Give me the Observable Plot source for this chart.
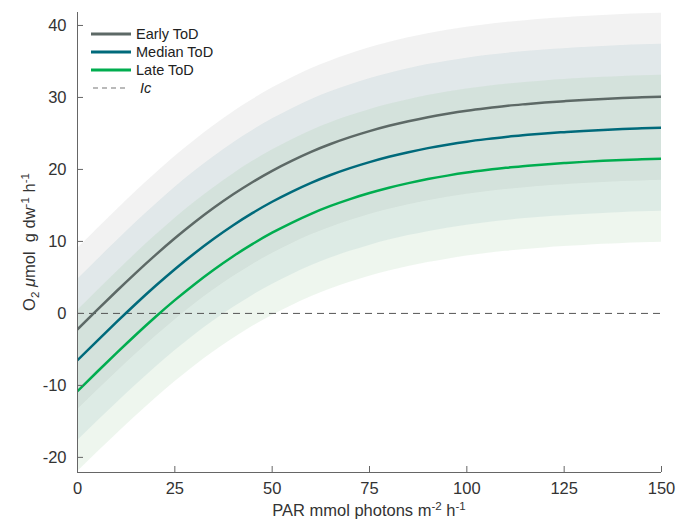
<!DOCTYPE html>
<html>
<head>
<meta charset="utf-8">
<script src="https://cdn.jsdelivr.net/npm/d3@7"></script>
<script src="https://cdn.jsdelivr.net/npm/@observablehq/plot@0.6"></script>
<style>
  html, body { margin: 0; padding: 0; background: #fff; }
  #wrap { position: relative; width: 688px; height: 522px; font-family: "Liberation Sans", Arial, Helvetica, sans-serif; color: #333; }
  #legend { position: absolute; left: 90px; top: 25px; font-size: 14.5px; color: #222; }
  .lrow { display: flex; align-items: center; height: 18px; }
  .lrow svg { margin-right: 4px; }
  #xlabel { position: absolute; left: 77px; width: 584px; top: 500px; text-align: center; font-size: 16.5px; color: #333; white-space: nowrap; }
  #ylabel { position: absolute; left: 30px; top: 242px; transform: translate(-50%, -50%) rotate(-90deg); font-size: 16.5px; color: #333; white-space: nowrap; }
  sup, sub { font-size: 0.7em; }
  sup { vertical-align: 0.55em; }
  sub { vertical-align: -0.3em; }
</style>
</head>
<body>
<div id="wrap">
  <div id="chart"></div>
  <div id="legend"></div>
  <div id="xlabel">PAR mmol photons m<sup>-2</sup> h<sup>-1</sup></div>
  <div id="ylabel">O<sub>2</sub> <i>μ</i>mol&nbsp; g dw<sup>-1</sup> h<sup>-1</sup></div>
</div>
<script>
// PAR values (mmol photons m^-2 h^-1)
const par = [0,5,10,15,20,25,30,35,40,45,50,55,60,65,70,75,80,85,90,95,100,105,110,115,120,125,130,135,140,145,150];
// Fitted curves
const earlyToD  = [-2.2,0.46,3.08,5.64,8.1,10.44,12.63,14.67,16.55,18.26,19.81,21.19,22.44,23.53,24.48,25.32,26.06,26.7,27.26,27.74,28.16,28.51,28.82,29.07,29.3,29.48,29.65,29.79,29.91,30.01,30.1];
const medianToD = [-6.5,-3.84,-1.22,1.34,3.8,6.14,8.33,10.37,12.25,13.96,15.51,16.89,18.14,19.23,20.18,21.02,21.76,22.4,22.96,23.44,23.86,24.21,24.52,24.77,25.0,25.18,25.35,25.49,25.61,25.71,25.8];
const lateToD   = [-10.8,-8.14,-5.52,-2.96,-0.5,1.84,4.03,6.07,7.95,9.66,11.21,12.59,13.84,14.93,15.88,16.72,17.46,18.1,18.66,19.14,19.56,19.91,20.22,20.47,20.7,20.88,21.05,21.19,21.31,21.41,21.5];
// Half-width of the shaded interval around each curve
const bandHalf  = [11.2,11.22,11.25,11.28,11.31,11.34,11.37,11.4,11.43,11.46,11.49,11.51,11.53,11.55,11.56,11.57,11.58,11.59,11.6,11.6,11.6,11.6,11.6,11.6,11.6,11.6,11.6,11.6,11.6,11.6,11.6];
// Axis ticks
const xTicks = [0,25,50,75,100,125,150];
const yTicks = [-20,-10,0,10,20,30,40];
const seriesNames = ["Early ToD","Median ToD","Late ToD"];
const lineColors = ["#5d6966","#006a7b","#00ad4f"];
const bandColors = ["#a8a8a8","#81afbd","#8ec38e"];
const seriesValues = [earlyToD, medianToD, lateToD];

const W = 688, H = 522;
const M = {top: 12, right: 27, bottom: 50, left: 77};
const plotW = W - M.left - M.right, plotH = H - M.top - M.bottom;
const yDomain = [-22.1, 41.8];

const rows = [];
seriesNames.forEach((name, s) => {
  par.forEach((p, i) => rows.push({series: name, s, par: p, y: seriesValues[s][i], lo: seriesValues[s][i] - bandHalf[i], hi: seriesValues[s][i] + bandHalf[i]}));
});

const marks = [];
seriesNames.forEach((name, s) => {
  marks.push(Plot.areaY(rows.filter(d => d.s === s), {x: "par", y1: "lo", y2: "hi", fill: bandColors[s], fillOpacity: 0.15, curve: "natural", clip: true}));
});
marks.push(Plot.ruleY([0], {stroke: "#555", strokeWidth: 1, strokeDasharray: "7,5"}));
seriesNames.forEach((name, s) => {
  marks.push(Plot.line(rows.filter(d => d.s === s), {x: "par", y: "y", stroke: lineColors[s], strokeWidth: 2.5, curve: "natural", clip: true}));
});
marks.push(Plot.ruleX([0], {stroke: "#666", strokeWidth: 1}));
marks.push(Plot.ruleY([yDomain[0]], {stroke: "#666", strokeWidth: 1}));
marks.push(Plot.tickX(xTicks, {x: d => d, insetTop: plotH - 6, stroke: "#666"}));
marks.push(Plot.tickY(yTicks, {y: d => d, insetRight: plotW - 6, stroke: "#666"}));
marks.push(Plot.axisX(xTicks, {tickSize: 0, tickPadding: 10, label: null, tickFormat: d => String(d)}));
marks.push(Plot.axisY(yTicks, {tickSize: 0, tickPadding: 11, label: null, tickFormat: d => String(d)}));

const chart = Plot.plot({
  width: W, height: H,
  marginTop: M.top, marginRight: M.right, marginBottom: M.bottom, marginLeft: M.left,
  style: {fontFamily: '"Liberation Sans", Arial, Helvetica, sans-serif', fontSize: "16.5px", color: "#333", background: "transparent"},
  x: {domain: [0, 150]},
  y: {domain: yDomain},
  marks
});
document.getElementById("chart").appendChild(chart);

// Legend
const legend = document.getElementById("legend");
seriesNames.forEach((name, s) => {
  const row = document.createElement("div");
  row.className = "lrow";
  row.innerHTML = `<svg width="42" height="6"><line x1="1" y1="3" x2="41" y2="3" stroke="${lineColors[s]}" stroke-width="3"/></svg><span>${name}</span>`;
  legend.appendChild(row);
});
const icRow = document.createElement("div");
icRow.className = "lrow";
icRow.innerHTML = `<svg width="42" height="6"><line x1="3" y1="3" x2="39" y2="3" stroke="#777" stroke-width="1.2" stroke-dasharray="5,4"/></svg><span style="font-style:italic;margin-left:4px">Ic</span>`;
legend.appendChild(icRow);
</script>
</body>
</html>
